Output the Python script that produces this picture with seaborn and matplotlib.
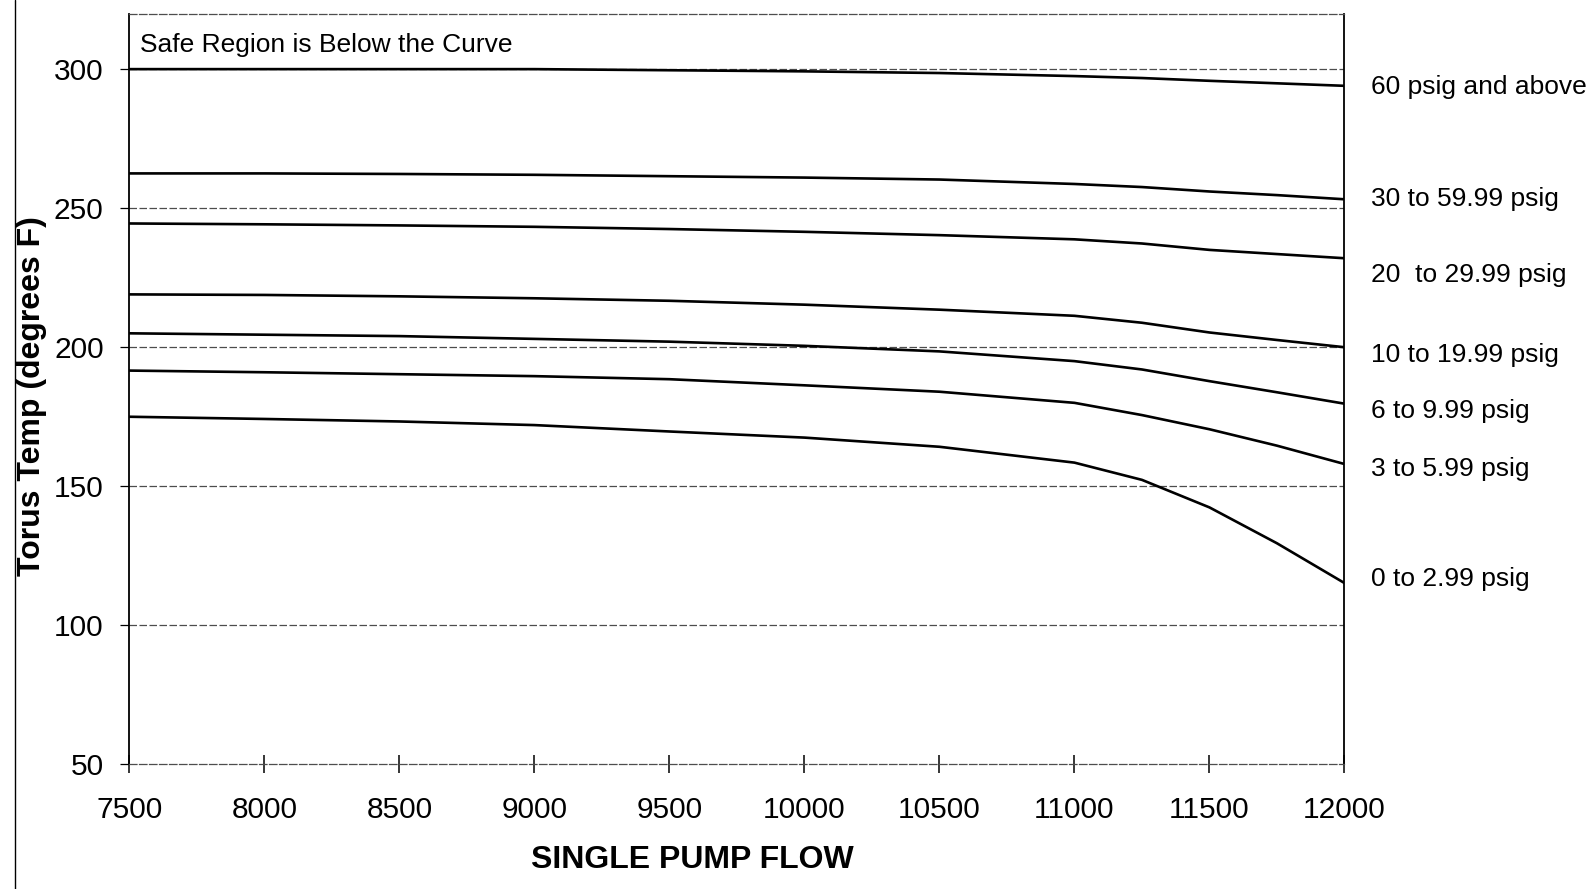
import matplotlib
matplotlib.use("Agg")
import matplotlib.pyplot as plt
from matplotlib.lines import Line2D
import pandas as pd
import seaborn as sns

# Single pump flow (gpm) at which each torus temperature limit is read
flow = [7500, 8000, 8500, 9000, 9500, 10000, 10500, 11000, 11250, 11500, 11750, 12000]

# Torus pressure bands, top curve first
band_labels = [
    "60 psig and above",
    "30 to 59.99 psig",
    "20  to 29.99 psig",
    "10 to 19.99 psig",
    "6 to 9.99 psig",
    "3 to 5.99 psig",
    "0 to 2.99 psig",
]

# Torus temperature limit (degrees F) for each pressure band
temp_60_up = [300.0, 300.0, 300.0, 300.0, 299.6, 299.2, 298.6, 297.5, 296.8, 295.8, 294.9, 294.0]
temp_30_60 = [262.5, 262.5, 262.3, 262.0, 261.5, 261.0, 260.3, 258.7, 257.6, 256.0, 254.7, 253.2]
temp_20_30 = [244.5, 244.2, 243.8, 243.3, 242.5, 241.5, 240.3, 238.8, 237.3, 235.0, 233.5, 232.0]
temp_10_20 = [219.0, 218.8, 218.3, 217.6, 216.7, 215.3, 213.5, 211.3, 208.8, 205.3, 202.6, 200.0]
temp_6_10 = [205.0, 204.5, 204.0, 203.0, 202.0, 200.5, 198.5, 195.0, 192.0, 187.8, 183.8, 179.7]
temp_3_6 = [191.6, 191.0, 190.3, 189.6, 188.5, 186.3, 184.0, 180.0, 175.6, 170.5, 164.6, 158.0]
temp_0_3 = [175.0, 174.2, 173.3, 172.0, 169.7, 167.5, 164.2, 158.5, 152.3, 142.4, 129.5, 115.2]

x_ticks = [7500, 8000, 8500, 9000, 9500, 10000, 10500, 11000, 11500, 12000]
y_ticks = [50, 100, 150, 200, 250, 300]

curves = [temp_60_up, temp_30_60, temp_20_30, temp_10_20, temp_6_10, temp_3_6, temp_0_3]
df = pd.concat(
    [pd.DataFrame({"flow": flow, "temp": t, "band": lab}) for lab, t in zip(band_labels, curves)],
    ignore_index=True,
)

sns.set_theme(style="white")
plt.rcParams["font.family"] = ["Liberation Sans", "DejaVu Sans"]
plt.rcParams.update({
    "text.color": "black",
    "axes.labelcolor": "black",
    "xtick.color": "black",
    "ytick.color": "black",
})

fig = plt.figure(figsize=(15.96, 8.89), dpi=100)
ax = fig.add_axes([0.0811, 0.1402, 0.7613, 0.8446])

# horizontal grid at the labelled temperatures
for yv in y_ticks[1:]:
    ax.axhline(yv, color="#4d4d4d", lw=0.9, ls=(0, (6, 2)), zorder=1)

sns.lineplot(
    data=df, x="flow", y="temp", units="band", estimator=None,
    color="black", lw=1.9, sort=False, legend=False, ax=ax, zorder=3,
)

ax.set_xlim(7500, 12000)
ax.set_ylim(50, 320)
ax.set_xticks(x_ticks)
ax.set_yticks(y_ticks)
ax.set_xticklabels([str(v) for v in x_ticks])
ax.set_yticklabels([str(v) for v in y_ticks])

ax.tick_params(axis="x", bottom=True, direction="inout", length=13, width=1.1,
               pad=16, labelsize=21.5)
ax.tick_params(axis="y", left=True, direction="out", length=6.5, width=0.9,
               pad=12, labelsize=21.5)

for side in ("left", "right"):
    ax.spines[side].set_color("black")
    ax.spines[side].set_linewidth(1.3)
for side in ("top", "bottom"):
    ax.spines[side].set_color("#4d4d4d")
    ax.spines[side].set_linewidth(0.9)
    ax.spines[side].set_linestyle((0, (6, 2)))

ax.set_xlabel("SINGLE PUMP FLOW", fontsize=23, fontweight="bold")
ax.xaxis.set_label_coords(0.463, -0.108)
ax.set_ylabel("Torus Temp (degrees F)", fontsize=23, fontweight="bold")
ax.yaxis.set_label_coords(-0.0680, 0.491)

ax.text(0.009, 0.958, "Safe Region is Below the Curve", transform=ax.transAxes,
        fontsize=19, ha="left", va="center")

# band names to the right of each curve end
label_nudge_pt = [-1.2, 0.0, -11.8, -5.3, -5.0, -3.8, 2.9]
for lab, t, dy in zip(band_labels, curves, label_nudge_pt):
    ax.annotate(lab, xy=(flow[-1], t[-1]), xytext=(19, dy), textcoords="offset points",
                fontsize=19, ha="left", va="center", annotation_clip=False)

# page edge line at the far left
fig.add_artist(Line2D([0.0094, 0.0094], [0.0, 1.0], transform=fig.transFigure,
                      color="black", lw=1.0))

fig.savefig("out.png", dpi=100)
